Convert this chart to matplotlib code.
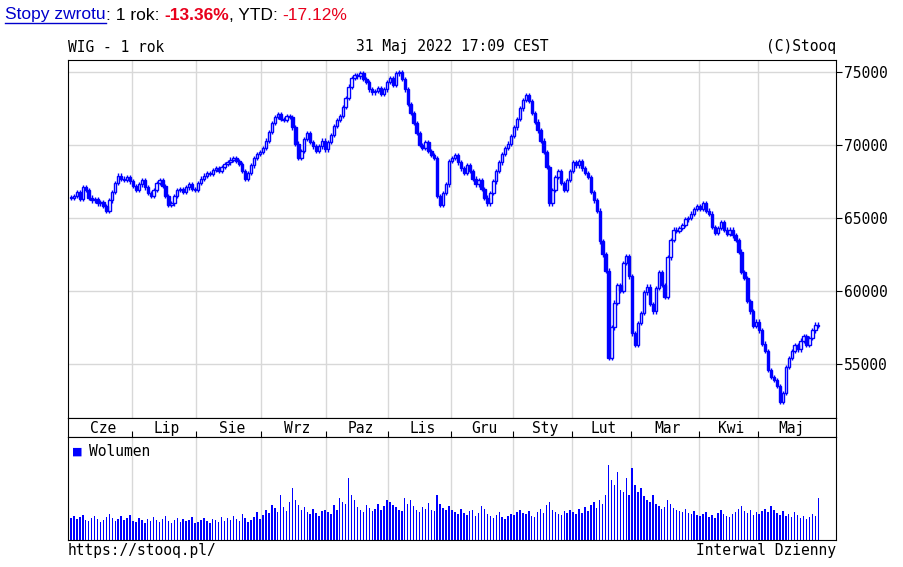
import numpy as np
import matplotlib
matplotlib.use('Agg')
import matplotlib.pyplot as plt

months = ['Cze', 'Lip', 'Sie', 'Wrz', 'Paz', 'Lis', 'Gru', 'Sty', 'Lut', 'Mar', 'Kwi', 'Maj']

# daily closes per month
closes = [
    [66400,66500,66800,66300,67100,66900,66400,66200,66300,66000,66100,65800,65500,66200,66800,67400,67900,67700,67600,67800,67500],
    [67200,66900,67300,67600,67100,66700,66500,66900,67400,67600,67200,66500,65900,66000,66500,66900,67000,66800,67100,67300,67000,66900],
    [67400,67700,67900,68100,68000,68300,68400,68200,68500,68700,68800,69000,69100,68900,68700,68200,67700,68100,68600,69100,69400,69500],
    [69800,70300,70900,71500,71900,72100,71800,71700,72000,71900,71200,70100,69100,69600,70400,70800,70200,69900,69600,69900,70300,69700],
    [70200,70700,71300,71700,72000,72600,73200,74000,74600,74800,74700,74900,74500,74300,73800,73600,73700,73900,73500,73800,74300],
    [74600,74100,74900,75000,74500,73800,72800,72200,71500,70800,70000,69800,70200,69600,69300,69100,66500,65900,66700,67300,68900],
    [69100,69300,68800,68400,68100,68600,68200,67700,67300,67600,67000,66400,66000,66700,67500,68200,68800,69400,69800,70100,70600],
    [71200,71800,72500,73100,73400,73000,72200,71600,71000,70300,69500,68500,66000,66900,67800,68200,67400,66900,67600,68200],
    [68800,68600,68900,68400,68100,67800,66800,66200,65500,63400,62500,61400,55400,57500,59200,60400,60000,61900,62400,61000],
    [57100,56300,57800,58500,59900,60300,59100,58600,60200,61300,60400,59600,62300,63500,64200,64100,64300,64500,64900,65000,65300,65600,65800],
    [65600,66000,65500,65300,64400,64000,64300,64700,64200,63900,64200,63800,63500,62700,61300,60900,59300,58600,57600,57900],
    [57300,56400,55900,54600,54100,53900,53500,52400,53000,54800,55400,55900,56300,56000,56600,56900,56300,56800,57300,57700,57600],
]

volumes = [
    [22,24,21,23,25,20,19,22,24,21,18,20,23,26,22,19,21,24,20,22,25],
    [19,18,22,20,17,21,19,23,20,18,21,24,19,17,20,22,18,21,19,20,23,17],
    [18,20,22,19,17,21,20,18,23,19,22,20,24,21,19,26,22,18,20,23,28,21],
    [25,30,27,35,32,28,45,33,29,38,52,40,35,30,33,28,26,31,27,24,29,30],
    [28,26,35,30,42,38,36,62,45,40,33,30,28,35,32,29,31,36,30,34,40],
    [38,35,33,30,29,42,36,40,34,30,28,33,31,37,30,29,45,36,32,30,34],
    [30,28,26,31,27,25,29,30,24,27,34,31,26,24,22,25,28,23,21,24,26],
    [25,28,30,27,26,29,24,23,28,31,27,35,38,30,28,26,25,29,27,30],
    [28,26,31,27,33,29,35,38,32,40,36,45,75,60,55,68,50,48,62,45],
    [72,55,48,52,44,40,38,45,36,34,31,33,40,36,32,30,29,28,31,27,26,29,25],
    [24,26,28,23,25,22,27,30,26,24,23,26,28,31,34,29,27,30,25,28],
    [26,29,31,28,34,30,27,25,29,24,26,23,28,25,22,24,21,23,26,24,42],
]

BLUE = '#0000ff'
close = np.concatenate(closes)
vol = np.concatenate(volumes)
n = len(close)
idx = np.arange(n)
opn = np.concatenate([[close[0]], close[:-1]])
starts = np.cumsum([0] + [len(m) for m in closes])
centers = (starts[:-1] + starts[1:]) / 2 + 0.5

W, H = 904, 567
fig = plt.figure(figsize=(W / 100, H / 100), dpi=100)
mono = 'DejaVu Sans Mono'

def pax(x0, y0, x1, y1):
    return fig.add_axes([x0 / W, 1 - y1 / H, (x1 - x0) / W, (y1 - y0) / H])

xlim = (-1, n + 5)
ax = pax(68, 60, 836, 418)
strip = pax(68, 418, 836, 437)
axv = pax(68, 437, 836, 540)

for a in (ax, axv):
    a.set_xlim(*xlim)
    for b in starts[1:-1]:
        a.axvline(b - 0.5, color='#d8d8d8', lw=1, zorder=0)

for lv in [55000, 60000, 65000, 70000, 75000]:
    ax.axhline(lv, color='#d8d8d8', lw=1, zorder=0)

up = close >= opn
lo = np.minimum(opn, close)
hi = np.maximum(opn, close)
hgt = np.maximum(hi - lo, 60)
ax.vlines(idx, lo - 150, hi + 150, color=BLUE, lw=1, zorder=2)
ax.bar(idx[up], hgt[up], bottom=lo[up], width=0.8, color='white', edgecolor=BLUE, lw=1, zorder=3)
ax.bar(idx[~up], hgt[~up], bottom=lo[~up], width=0.8, color=BLUE, edgecolor=BLUE, lw=1, zorder=3)
ax.set_ylim(51300, 75820)
ax.yaxis.tick_right()
ax.set_yticks([55000, 60000, 65000, 70000, 75000])
ax.set_yticklabels(['55000', '60000', '65000', '70000', '75000'], fontfamily=mono, fontsize=10.5)
ax.tick_params(axis='y', length=4, pad=2)
ax.set_xticks([])

strip.set_xlim(*xlim)
strip.set_ylim(0, 1)
strip.set_yticks([])
strip.set_xticks(starts[1:-1] - 0.5)
strip.set_xticklabels([])
strip.tick_params(axis='x', direction='in', length=4)
for c, m in zip(centers, months):
    strip.text(c, 0.45, m, ha='center', va='center', fontfamily=mono, fontsize=10.5)

axv.bar(idx, vol, width=0.5, color=BLUE, zorder=2)
axv.set_ylim(0, 103)
axv.set_xticks([])
axv.set_yticks([])
axv.text(0.5, 88, '\u25a0', color=BLUE, fontsize=8, va='center')
axv.text(6, 88, 'Wolumen', fontfamily=mono, fontsize=10.5, va='center')

fig.text(68 / W, 1 - 47 / H, 'WIG - 1 rok', fontfamily=mono, fontsize=10.5, va='center')
fig.text(452 / W, 1 - 47 / H, '31 Maj 2022 17:09 CEST', fontfamily=mono, fontsize=10.5, va='center', ha='center')
fig.text(836 / W, 1 - 47 / H, '(C)Stooq', fontfamily=mono, fontsize=10.5, va='center', ha='right')
fig.text(68 / W, 1 - 551 / H, 'https://stooq.pl/', fontfamily=mono, fontsize=10.5, va='center')
fig.text(836 / W, 1 - 551 / H, 'Interwal Dzienny', fontfamily=mono, fontsize=10.5, va='center', ha='right')

# top line: place pieces one after another
renderer = fig.canvas.get_renderer()
parts = [('Stopy zwrotu', '#0000cc', 'normal'), (': 1 rok: ', 'black', 'normal'),
         ('-13.36%', '#e8001c', 'bold'), (', YTD: ', 'black', 'normal'),
         ('-17.12%', '#e8001c', 'normal')]
x = 5
for i, (s, c, w) in enumerate(parts):
    t = fig.text(x / W, 1 - 15 / H, s, color=c, fontweight=w, fontfamily='Liberation Sans',
                 fontsize=12.5, va='center')
    bb = t.get_window_extent(renderer)
    if i == 0:
        fig.add_artist(plt.Line2D([x / W, (x + bb.width) / W], [1 - 23 / H, 1 - 23 / H],
                                  color='#0000cc', lw=1))
    x += bb.width

fig.savefig('out.png', dpi=100)
